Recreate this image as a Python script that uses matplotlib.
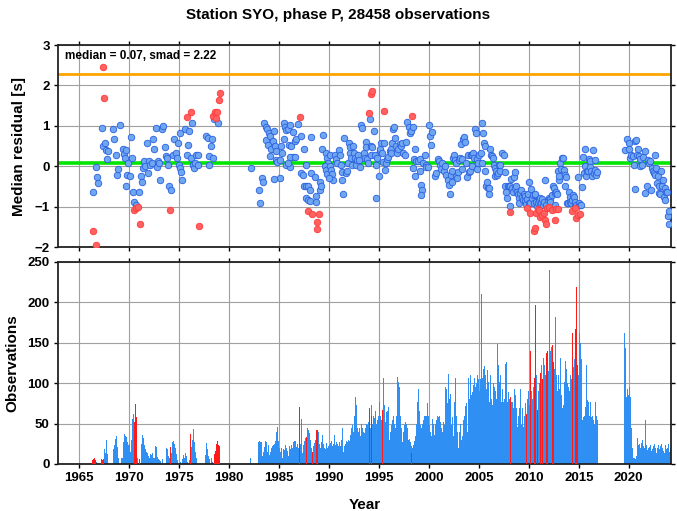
import numpy as np
import matplotlib
matplotlib.use("Agg")
import matplotlib.pyplot as plt

plt.rcParams["font.family"] = ["Liberation Sans", "DejaVu Sans"]
plt.rcParams["font.weight"] = "bold"

title = "Station SYO, phase P, 28458 observations"
median_val = 0.07
smad_val = 2.22

# monthly medians, normal (blue) and flagged (red)
blue_years = [
    1966.37, 1966.67, 1966.77, 1966.87, 1967.27, 1967.37, 1967.6, 1967.67, 1967.77, 1967.93,
    1968.43, 1968.53, 1968.67, 1968.8, 1968.93, 1969.1, 1969.43, 1969.5, 1969.6, 1969.67,
    1969.7, 1969.77, 1969.87, 1970.1, 1970.2, 1970.33, 1970.37, 1970.5, 1970.7, 1971.03,
    1971.2, 1971.33, 1971.43, 1971.53, 1971.6, 1971.77, 1971.87, 1972.0, 1972.1, 1972.27,
    1972.43, 1972.53, 1972.67, 1972.77, 1972.87, 1973.0, 1973.1, 1973.27, 1973.37, 1973.6,
    1973.67, 1973.8, 1973.93, 1974.0, 1974.2, 1974.43, 1974.53, 1974.7, 1974.77, 1974.93,
    1975.0, 1975.1, 1975.13, 1975.2, 1975.27, 1975.6, 1975.77, 1975.87, 1976.03, 1976.2,
    1976.27, 1976.37, 1976.53, 1976.6, 1976.7, 1976.87, 1976.93, 1977.7, 1977.87, 1978.0,
    1978.03, 1978.17, 1978.27, 1978.43, 1978.53, 1978.93, 1982.17, 1983.0, 1983.1, 1983.27,
    1983.43,
    1983.5, 1983.67, 1983.8, 1984.0, 1983.67, 1983.9, 1984.13, 1984.23, 1984.4, 1984.5,
    1984.57, 1984.07, 1984.67, 1984.73, 1984.8, 1985.07, 1985.13, 1984.47, 1985.23, 1985.33,
    1985.47, 1985.57, 1985.73, 1985.9, 1986.07, 1985.5, 1986.0, 1986.23, 1986.4, 1986.57,
    1986.73, 1986.9, 1987.17, 1986.4, 1986.07, 1986.57, 1985.73, 1986.13, 1985.9, 1987.5,
    1987.7, 1987.23, 1987.4, 1987.5, 1987.67, 1987.9, 1988.17, 1988.1, 1987.73, 1987.9,
    1988.07, 1988.57, 1988.67, 1988.73, 1989.07, 1989.07, 1989.27, 1989.37, 1988.23, 1989.17,
    1989.73, 1989.8, 1989.9, 1989.57, 1989.67, 1989.83, 1990.07, 1990.13, 1990.23, 1990.33,
    1990.4, 1990.0, 1990.57, 1990.73, 1990.83, 1991.0, 1991.07, 1991.17, 1991.27, 1991.33,
    1991.4, 1991.47, 1991.67, 1991.8, 1991.9, 1992.0, 1992.07, 1992.13, 1992.23, 1992.33,
    1992.4, 1992.47, 1992.57, 1992.67, 1992.8, 1992.9, 1993.0, 1993.07, 1993.23, 1993.33,
    1993.47, 1993.57, 1993.67, 1993.73, 1993.83, 1993.9, 1994.07, 1994.17, 1994.23, 1994.33,
    1994.5, 1994.57, 1994.67, 1994.73, 1994.83, 1995.0, 1995.07, 1995.13, 1995.23, 1995.33,
    1995.4, 1995.5, 1995.6, 1995.73, 1995.83, 1995.93, 1996.07, 1996.17, 1996.23, 1996.33,
    1996.4, 1996.5, 1996.6, 1996.73, 1996.83, 1996.93, 1997.07, 1997.17, 1997.27, 1997.4,
    1997.57, 1997.67, 1997.83, 1998.0, 1998.13, 1998.23, 1998.4, 1998.53, 1998.6, 1998.4,
    1998.57, 1998.73, 1998.9, 1999.07, 1999.13, 1999.23, 1999.33, 1999.17, 1999.4, 1999.57,
    1999.67, 1999.73, 1999.9, 2000.0, 2000.13, 2000.23, 2000.33, 2000.57, 2000.73, 2000.9,
    2001.0, 2001.07, 2001.17, 2001.3, 2001.47, 2001.6, 2001.73, 2001.9, 2002.0,
    2002.1, 2002.17, 2002.27, 2002.33, 2002.4, 2002.5, 2002.6, 2002.67, 2002.73, 2002.83,
    2002.93, 2003.0, 2003.1, 2003.17, 2003.27, 2003.33, 2003.4, 2003.5, 2003.6, 2003.67,
    2003.83, 2003.93, 2004.0, 2004.07, 2004.17, 2004.27, 2004.33, 2004.43, 2004.5, 2004.6,
    2004.67, 2004.77, 2004.83, 2004.93, 2005.0, 2005.17, 2005.27, 2005.33, 2005.43, 2005.5,
    2005.6, 2005.67, 2005.77, 2005.83, 2005.93, 2006.0, 2006.07, 2006.17, 2006.27, 2006.33,
    2006.43, 2006.5, 2006.6, 2006.67, 2006.73, 2006.83, 2006.93, 2007.0, 2007.1, 2007.17,
    2007.33, 2007.5, 2007.6, 2007.67, 2007.77, 2007.83, 2007.9, 2008.0, 2008.1, 2008.17,
    2008.27, 2008.33, 2008.4, 2008.5, 2008.6, 2008.67, 2008.77, 2008.83, 2008.93, 2009.0,
    2009.07, 2009.17, 2009.27, 2009.33, 2009.43, 2009.5, 2009.6, 2009.67, 2009.77, 2009.83,
    2009.93, 2010.0, 2010.07, 2010.17, 2010.27, 2010.33, 2010.43, 2010.5, 2010.6, 2010.67,
    2010.77, 2010.83, 2010.93, 2011.0, 2011.1, 2011.17, 2011.27, 2011.33, 2011.43, 2011.53,
    2011.67, 2011.77, 2011.9, 2012.0, 2012.1, 2012.17, 2012.33, 2012.43, 2012.5, 2012.6,
    2012.67, 2012.73, 2012.83, 2012.93, 2013.0, 2013.07, 2013.17, 2013.27, 2013.33, 2013.43,
    2013.5, 2013.6, 2013.67, 2013.77, 2013.83, 2013.93, 2014.0, 2014.1, 2014.17, 2014.27,
    2014.33, 2014.4, 2014.5, 2014.6, 2014.67, 2014.77, 2014.93, 2015.0, 2015.1, 2015.27,
    2015.33, 2015.4, 2015.5, 2015.6, 2015.67, 2015.77, 2015.83, 2015.93, 2016.0, 2016.1,
    2016.17, 2016.27, 2016.33, 2016.4, 2016.5, 2016.6, 2016.67, 2016.73, 2016.83,
    2019.67, 2019.83, 2020.0, 2020.07, 2020.17, 2020.27, 2020.4, 2020.5, 2020.6, 2020.67,
    2020.77, 2020.83, 2020.93, 2021.0, 2021.1, 2021.17, 2021.33, 2021.43, 2021.6, 2021.67,
    2021.83, 2021.93, 2022.0, 2022.1, 2022.2, 2022.33, 2022.4, 2022.5, 2022.6, 2022.67,
    2022.73, 2022.83, 2022.93, 2023.0, 2023.07, 2023.17, 2023.27, 2023.33, 2023.43, 2023.5,
    2023.6, 2023.67, 2023.77, 2023.87, 2023.93, 2024.0, 2024.07,
]
blue_resid = [
    -0.63, -0.02, -0.27, -0.42, 0.94, 0.50, 0.58, 0.39, 0.18, 0.38,
    0.93, 0.67, 0.29, -0.21, -0.08, 1.02, 0.42, 0.31, 0.21, -0.50,
    0.40, -0.21, 0.08, -0.25, 0.73, 0.21, -0.63, -0.88, -0.96, -0.63,
    -0.23, -0.38, -0.04, 0.13, 0.00, 0.57, -0.17, 0.13, 0.02, 0.08,
    0.68, 0.42, 0.94, -0.03, 0.13, 0.08, -0.33, 0.93, 1.00, 0.48,
    0.25, 0.21, 0.04, -0.50, -0.60, 0.29, 0.67, 0.33, 0.21, 0.58,
    0.04, -0.04, 0.81, -0.15, -0.33, 0.92, 0.29, 0.52, 0.88, 0.21,
    1.08, 0.04, -0.04, 0.08, 0.29, 0.04, 0.29, 0.75, 0.71, 0.02,
    0.25, 0.50, 0.67, 0.21, 1.17, 1.06, -0.04, -0.58, -0.92, -0.29,
    -0.40,
    1.08, 0.98, 0.93, 0.83, 0.64, 0.52, 0.75, 0.42, 0.63, 0.88,
    0.50, 0.25, 0.38, 0.15, 0.10, 0.15, -0.28, -0.32, 0.50, 0.32,
    1.06, 0.96, 0.89, 0.92, 1.02, 0.67, 0.52, 0.50, 0.85, 0.63,
    0.67, 1.04, 0.75, 0.23, 0.23, 0.23, 0.04, -0.03, 0.08, 0.43,
    0.03, -0.17, -0.21, -0.48, -0.48, -0.48, -0.17, -0.58, -0.79, -0.83,
    -0.85, -0.27, -0.73, -0.88, -0.38, -0.58, 0.42, 0.77, 0.73, -0.50,
    0.32, 0.21, 0.08, 0.00, -0.10, -0.19, 0.27, 0.00, -0.10, -0.19,
    -0.33, -0.29, 0.29, 0.17, 0.08, 0.39, 0.29, 0.04, -0.15, -0.35,
    -0.69, 0.69, -0.17, -0.11, 0.08, 0.58, 0.48, 0.33, 0.21, 0.04,
    0.50, 0.33, 0.21, 0.02, 0.15, 0.29, 0.15, -0.02, 1.03, 0.94,
    0.33, 0.21, 0.60, 0.48, 0.18, 0.08, 1.17, 0.28, 0.50, 0.48,
    0.88, 0.29, 0.04, -0.78, 0.21, -0.23, 0.38, 0.43, 0.58, 0.33,
    0.10, 0.57, -0.10, 0.08, 0.18, 0.23, 0.38, 0.42, 0.33, 0.58,
    0.92, 0.98, 0.71, 0.50, 0.33, 0.42, 0.54, 0.50, 0.57, 0.33,
    0.29, 0.60, 1.10, 0.96, 0.82, 0.88, 0.98, 0.18, 0.43, -0.04,
    -0.23, 0.13, 0.13, 0.17, -0.13, -0.46, -0.58, -0.71, 0.08, 0.29,
    0.02, -0.03, -0.03, 1.03, 0.75, 0.52, 0.85, -0.25, -0.17, 0.19,
    0.14, 0.04, -0.08, 0.08, -0.13, 0.00, -0.21, -0.33, -0.46,
    -0.68, -0.21, -0.38, -0.13, 0.21, 0.27, 0.15, 0.07, -0.25, -0.29,
    -0.15, 0.15, 0.21, 0.54, -0.07, 0.17, 0.68, 0.73, 0.60, 0.08,
    -0.27, 0.29, -0.15, -0.13, 0.29, 0.00, 0.29, 0.33, 0.21, 0.93,
    0.82, -0.08, 0.17, 0.08, 0.29, 0.33, 0.07, 1.07, 0.81, 0.57,
    0.50, -0.13, -0.50, -0.38, -0.54, -0.68, -0.54, 0.42, 0.29, 0.25,
    0.21, 0.04, -0.04, -0.25, -0.13, -0.21, -0.17, 0.04, -0.13, 0.04,
    0.32, 0.27, -0.15, -0.48, -0.63, -0.79, -0.50, -0.48, -0.50, -0.98,
    -0.32, -0.54, -0.63, -0.27, -0.15, -0.53, -0.50, -0.63, -0.68, -0.79,
    -0.92, -0.67, -0.58, -0.75, -0.83, -0.68, -0.73, -0.85, -0.93, -0.82,
    -0.68, -0.40, -0.90, -0.92, -0.57, -0.79, -0.71, -0.90, -0.71, -0.69,
    -0.88, -0.98, -0.90, -0.83, -0.79, -0.96, -0.92, -0.82, -0.96, -0.88,
    -0.33, -0.96, -0.83, -0.79, -0.82, -0.88, -0.71, -0.50, -0.54, -0.96,
    -0.67, -0.63, -0.68, -0.13, -0.33, -0.25, 0.07, -0.07, 0.21, 0.21,
    -0.10, -0.50, -0.21, -0.27, -0.92, -0.90, -0.63, -0.75, -0.89, -0.92,
    -0.83, -0.71, -0.75, -0.93, -0.88, -0.96, -0.27, -0.92, -0.96, -0.96,
    -0.52, 0.23, -0.17, 0.00, 0.43, -0.25, -0.13, -0.13, 0.17, 0.13,
    -0.02, -0.13, -0.25, 0.40, -0.17, 0.15, -0.10, -0.21, -0.15,
    0.39, 0.67, 0.58, 0.42, 0.21, 0.29, 0.25, 0.02, -0.57, 0.63,
    0.64, 0.27, 0.42, 0.25, 0.00, 0.18, 0.04, 0.23, 0.38, -0.67,
    -0.50, 0.15, 0.08, 0.13, -0.58, -0.04, -0.13, -0.17, -0.21, 0.29,
    -0.04, -0.42, -0.25, -0.50, -0.67, -0.68, -0.13, -0.50, -0.33, -0.75,
    -0.83, -0.54, -0.63, -0.63, -1.23, -1.10, -1.43,
]

red_years = [
    1966.37, 1966.7, 1967.37, 1967.5, 1970.53, 1970.7, 1970.87, 1971.1, 1974.1, 1975.83,
    1976.17, 1977.0, 1978.43, 1978.6, 1978.7, 1978.83, 1979.03, 1979.1, 1987.07, 1987.9,
    1988.33, 1988.8, 1988.83, 1988.97, 1994.0, 1994.17, 1994.3, 1995.47, 1998.33,
    2008.17, 2009.83, 2010.17, 2010.5, 2010.67, 2010.77, 2010.93, 2011.07, 2011.17, 2011.33,
    2011.5, 2011.6, 2011.77, 2011.83, 2012.0, 2012.33, 2012.6, 2012.73, 2012.93, 2014.33,
    2014.6, 2014.77, 2014.93, 2015.17,
]
red_resid = [
    -1.60, -1.94, 2.46, 1.68, -1.08, -1.04, -1.00, -1.44, -1.08, 1.22,
    1.33, -1.48, 1.25, 1.35, 1.19, 1.35, 1.64, 1.80, 1.21, -1.10,
    -1.18, -1.38, -1.56, -1.18, 1.32, 1.78, 1.86, 1.37, 1.25,
    -1.13, -1.03, -1.15, -1.60, -1.52, -1.17, -1.07, -1.08, -1.25, -1.21,
    -1.17, -1.32, -1.43, -1.04, -1.02, -1.08, -1.33, -1.07, -1.07, -1.11,
    -1.04, -1.29, -1.21, -1.18,
]

# monthly observation counts, three recording periods
start_1966 = 1966.0
obs_1966_1979 = [
    0, 0, 0, 0, 5, 6, 7, 5, 3, 0, 0, 0,
    0, 0, 4, 6, 5, 6, 18, 14, 30, 20, 12, 0,
    0, 0, 0, 0, 0, 18, 24, 31, 35, 29, 21, 8,
    0, 0, 0, 7, 7, 27, 37, 35, 33, 21, 27, 24,
    25, 15, 22, 30, 56, 62, 52, 74, 58, 33, 8, 0,
    6, 0, 0, 25, 36, 32, 23, 19, 15, 11, 14, 10,
    8, 12, 0, 11, 14, 7, 8, 22, 21, 17, 9, 6,
    5, 4, 0, 0, 6, 0, 0, 0, 20, 15, 18, 10,
    8, 21, 6, 14, 27, 28, 25, 20, 12, 8, 5, 0,
    0, 3, 0, 0, 6, 11, 7, 14, 10, 6, 3, 0,
    5, 37, 10, 21, 30, 43, 27, 15, 8, 4, 0, 0,
    0, 0, 0, 0, 0, 0, 0, 11, 23, 26, 19, 10,
    6, 0, 4, 8, 3, 0, 12, 16, 20, 25, 29, 24,
    22, 0, 0,
]
start_1982 = 1982.0
obs_1982_2016 = [
    0, 7, 0, 0, 0, 0, 0, 0, 0, 0, 0, 27,
    28, 27, 26, 27, 10, 15, 21, 29, 27, 21, 15, 24,
    11, 15, 18, 20, 22, 24, 25, 28, 33, 40, 46, 29,
    20, 15, 20, 11, 7, 18, 17, 24, 14, 20, 16, 10,
    22, 18, 15, 24, 20, 27, 28, 28, 11, 21, 25, 20,
    71, 25, 56, 20, 13, 23, 29, 32, 30, 33, 45, 42,
    38, 30, 20, 15, 15, 22, 26, 30, 20, 42, 42, 40,
    25, 20, 22, 27, 36, 25, 20, 18, 26, 24, 20, 22,
    24, 26, 20, 28, 22, 25, 36, 24, 20, 27, 25, 22,
    27, 22, 21, 30, 45, 15, 22, 25, 28, 20, 27, 30,
    29, 36, 43, 45, 48, 40, 60, 83, 73, 50, 45, 40,
    44, 35, 27, 50, 44, 40, 38, 45, 42, 50, 48, 52,
    69, 45, 60, 73, 50, 60, 57, 65, 45, 50, 55, 60,
    77, 60, 55, 50, 67, 106, 73, 52, 64, 58, 65, 70,
    30, 40, 48, 45, 55, 60, 50, 45, 55, 60, 108, 102,
    95, 60, 45, 35, 27, 40, 48, 52, 50, 44, 45, 30,
    31, 27, 22, 14, 20, 24, 28, 35, 40, 50, 77, 93,
    65, 48, 40, 45, 50, 55, 60, 58, 60, 60, 75, 60,
    48, 40, 27, 35, 56, 50, 36, 45, 50, 55, 60, 58,
    60, 52, 48, 45, 40, 52, 48, 60, 95, 93, 75, 111,
    81, 87, 64, 48, 58, 35, 77, 107, 93, 60, 40, 20,
    40, 50, 45, 30, 35, 55, 60, 61, 72, 75, 40, 106,
    81, 98, 110, 85, 89, 98, 106, 95, 90, 100, 110, 105,
    90, 100, 105, 210, 106, 118, 121, 101, 110, 93, 116, 101,
    77, 69, 110, 81, 73, 100, 95, 90, 85, 80, 149, 122,
    101, 77, 110, 77, 93, 77, 80, 85, 124, 126, 77, 89,
    81, 83, 20, 77, 77, 69, 93, 85, 48, 69, 46, 60,
    69, 93, 85, 48, 69, 46, 60, 70, 75, 62, 80, 90,
    73, 68, 140, 90, 80, 95, 107, 100, 197, 110, 67, 90,
    100, 112, 98, 123, 85, 131, 123, 100, 110, 137, 140, 115,
    240, 130, 140, 145, 147, 126, 117, 120, 182, 110, 90, 110,
    93, 131, 131, 85, 69, 73, 102, 89, 128, 118, 100, 95,
    90, 100, 110, 105, 162, 120, 130, 140, 167, 219, 122, 110,
    162, 118, 150, 130, 55, 58, 60, 56, 70, 122, 79, 77,
    60, 77, 65, 58, 60, 55, 50, 70, 77, 60, 55, 0,
]
start_2019 = 2019.5
obs_2019_2024 = [
    162, 143, 118, 83, 93, 85,
    95, 83, 70, 45, 20, 8, 7, 5, 6, 10, 32, 23,
    25, 20, 18, 26, 30, 22, 20, 25, 55, 23, 17, 20,
    21, 24, 20, 16, 18, 22, 25, 20, 17, 13, 20, 23,
    19, 22, 18, 25, 20, 16, 14, 21, 24, 18, 20, 25,
    15, 20,
]

# months whose bar is drawn in red
red_bar_years = [
    1966.33, 1966.42, 1966.5, 1966.58, 1967.25, 1967.33, 1967.42,
    1970.5, 1970.58, 1970.67, 1970.75, 1971.0, 1974.08, 1976.08,
    1978.5, 1978.58, 1978.67, 1978.75, 1978.83, 1978.92, 1979.0,
    1987.0, 1987.75, 1988.33, 1988.75, 1988.83, 1994.0, 1994.17, 1995.33, 1998.25,
    2008.08, 2009.75, 2010.17, 2010.5, 2010.67, 2010.83, 2011.08, 2011.33, 2011.75,
    2011.83, 2012.33, 2012.42, 2014.33, 2014.67, 2014.75, 2014.83,
]
red_bar_counts = [
    5, 6, 7, 5, 6, 5, 6,
    52, 74, 58, 33, 6, 21, 37,
    12, 16, 20, 25, 29, 24, 22,
    71, 33, 15, 42, 42, 69, 60, 67, 14,
    83, 62, 140, 107, 197, 67, 112, 105, 137,
    140, 147, 126, 162, 167, 219, 122,
]

fig = plt.figure(figsize=(6.77, 5.11), dpi=100)
ax1 = fig.add_axes([0.0857, 0.5166, 0.905, 0.3953])
ax2 = fig.add_axes([0.0857, 0.092, 0.905, 0.3953])

fig.suptitle(title, x=0.5, y=0.985, fontsize=11, fontweight="bold")

grid_kw = dict(color="#a0a0a0", linewidth=0.8)
for ax in (ax1, ax2):
    ax.set_xlim(1962.9, 2024.2)
    ax.set_xticks(np.arange(1965, 2021, 5))
    ax.grid(True, **grid_kw)
    ax.set_axisbelow(True)
    ax.tick_params(direction="out", length=3, width=1, top=True, right=True,
                   labelsize=9.5, pad=3)
    for sp in ax.spines.values():
        sp.set_linewidth(1.3)
        sp.set_color("#222222")

# top panel: residuals
ax1.set_ylim(-2, 3)
ax1.set_yticks(np.arange(-2, 4, 1))
ax1.tick_params(labelbottom=False)
ax1.axhline(median_val + smad_val, color="#ffa500", linewidth=2, zorder=2)
ax1.axhline(median_val, color="#00e600", linewidth=2.6, zorder=2)
ax1.scatter(blue_years, blue_resid, s=22, facecolor="#6ea6f2", edgecolor="#2a5fe0",
            linewidths=0.6, zorder=3)
ax1.scatter(red_years, red_resid, s=22, facecolor="#ff6060", edgecolor="#ff3a3a",
            linewidths=0.6, zorder=3)
ax1.text(0.012, 0.975, f"median = {median_val:.2f}, smad = {smad_val:.2f}",
         transform=ax1.transAxes, ha="left", va="top", fontsize=8.5, fontweight="bold")
ax1.set_ylabel("Median residual [s]", fontsize=11, fontweight="bold", labelpad=6)

# bottom panel: monthly observation counts
bar_w = 0.1
for start, counts in [(start_1966, obs_1966_1979), (start_1982, obs_1982_2016),
                      (start_2019, obs_2019_2024)]:
    months = start + np.arange(len(counts)) / 12.0
    ax2.bar(months, counts, width=bar_w, align="edge", color="#2f8ff2",
            linewidth=0, antialiased=False, zorder=2)
ax2.bar(red_bar_years, red_bar_counts, width=bar_w, align="edge",
        color="#ff1a1a", linewidth=0, antialiased=False, zorder=3)
ax2.set_ylim(0, 250)
ax2.set_yticks(np.arange(0, 251, 50))
ax2.set_ylabel("Observations", fontsize=11, fontweight="bold", labelpad=6)
ax2.set_xlabel("Year", fontsize=11, fontweight="bold", labelpad=10)

fig.savefig("out.png", dpi=100)
